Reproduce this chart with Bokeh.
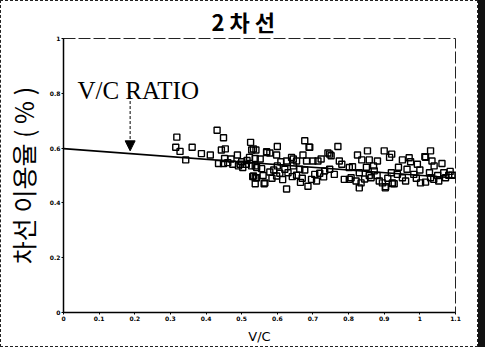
from bokeh.plotting import figure
from bokeh.models import Range1d, FixedTicker, Arrow, NormalHead, Label
from bokeh.embed import file_html
from bokeh.resources import INLINE

# ---- data ----
vc = [0.318, 0.315, 0.327, 0.343, 0.361, 0.387, 0.412, 0.431, 0.449, 0.443,
      0.454, 0.452, 0.435, 0.449, 0.461, 0.475, 0.488, 0.491, 0.503, 0.525,
      0.528, 0.540, 0.522, 0.538, 0.513, 0.528, 0.542, 0.531, 0.542, 0.538,
      0.563, 0.552, 0.570, 0.579, 0.600, 0.598, 0.610, 0.626, 0.640, 0.654,
      0.645, 0.672, 0.677, 0.689, 0.682, 0.700, 0.714, 0.723, 0.742, 0.751,
      0.774, 0.781, 0.802, 0.538, 0.556, 0.579, 0.598, 0.607, 0.621, 0.630,
      0.642, 0.654, 0.663, 0.677, 0.686, 0.696, 0.705, 0.719, 0.733, 0.747,
      0.760, 0.788, 0.802, 0.565, 0.626, 0.538, 0.585, 0.615, 0.560, 0.590,
      0.670, 0.710, 0.730, 0.665, 0.600, 0.645, 0.533, 0.570, 0.691, 0.770,
      0.747, 0.853, 0.825, 0.837, 0.858, 0.881, 0.900, 0.921, 0.915, 0.951,
      0.974, 0.993, 1.030, 1.014, 1.034, 1.062, 0.811, 0.807, 0.821, 0.835,
      0.830, 0.863, 0.872, 0.886, 0.895, 0.903, 0.923, 0.937, 0.951, 0.964,
      0.983, 1.002, 1.016, 1.030, 1.039, 1.053, 1.072, 1.081, 1.090, 1.067,
      1.027, 0.858, 0.850, 0.940, 0.830, 0.928, 0.880, 0.910, 0.960, 0.990,
      1.050, 1.000, 0.870, 0.970, 1.040, 1.085, 0.920, 0.845, 0.500, 0.470,
      0.515, 0.496, 0.533, 0.904, 0.923, 1.016]
util = [0.640, 0.603, 0.588, 0.557, 0.603, 0.580, 0.575, 0.665, 0.638, 0.593,
        0.597, 0.562, 0.544, 0.544, 0.547, 0.541, 0.575, 0.535, 0.529, 0.621,
        0.593, 0.593, 0.566, 0.562, 0.541, 0.535, 0.529, 0.496, 0.492, 0.470,
        0.470, 0.560, 0.587, 0.582, 0.606, 0.575, 0.550, 0.553, 0.566, 0.553,
        0.560, 0.575, 0.627, 0.603, 0.553, 0.553, 0.553, 0.560, 0.582, 0.572,
        0.553, 0.541, 0.529, 0.535, 0.525, 0.513, 0.498, 0.508, 0.523, 0.510,
        0.496, 0.501, 0.523, 0.520, 0.461, 0.486, 0.504, 0.508, 0.517, 0.523,
        0.504, 0.486, 0.486, 0.473, 0.451, 0.492, 0.490, 0.485, 0.500, 0.520,
        0.490, 0.480, 0.495, 0.475, 0.535, 0.535, 0.597, 0.584, 0.603, 0.606,
        0.578, 0.590, 0.575, 0.557, 0.557, 0.553, 0.590, 0.578, 0.566, 0.557,
        0.550, 0.541, 0.590, 0.569, 0.553, 0.544, 0.532, 0.492, 0.480, 0.473,
        0.510, 0.492, 0.517, 0.480, 0.473, 0.455, 0.473, 0.504, 0.492, 0.523,
        0.504, 0.473, 0.476, 0.492, 0.486, 0.480, 0.492, 0.501, 0.501, 0.510,
        0.510, 0.500, 0.530, 0.530, 0.455, 0.470, 0.500, 0.490, 0.480, 0.490,
        0.500, 0.520, 0.535, 0.565, 0.535, 0.515, 0.510, 0.487, 0.550, 0.560,
        0.555, 0.541, 0.498, 0.459, 0.471, 0.566]

trend_x = [0.0, 1.1]
trend_y = [0.598, 0.491]

x_ticks = [0.0, 0.1, 0.2, 0.3, 0.4, 0.5, 0.6, 0.7, 0.8, 0.9, 1.0, 1.1]
x_tick_labels = ["0", "0.1", "0.2", "0.3", "0.4", "0.5", "0.6", "0.7", "0.8", "0.9", "1", "1.1"]
y_ticks = [0.0, 0.2, 0.4, 0.6, 0.8, 1.0]
y_tick_labels = ["0", "0.2", "0.4", "0.6", "0.8", "1"]

arrow_x = 0.187
arrow_y_start = 0.79
arrow_y_end = 0.59

p = figure(width=478, height=347, output_backend="svg", toolbar_location=None,
           x_range=Range1d(0, 1.1), y_range=Range1d(0, 1.0),
           min_border_left=56, min_border_right=24, min_border_top=34, min_border_bottom=36,
           background_fill_color="white", border_fill_color="white")

p.styles = {"border": "1px dashed #222", "box-sizing": "border-box",
            "box-shadow": "7px 0px 0px 0px #111"}

p.title.text = "2 차 선"
p.title.text_font = "Noto Sans CJK KR"
p.title.text_font_size = "22px"
p.title.text_font_style = "bold"
p.title.align = "left"
p.title.offset = 148
p.title.standoff = 3
p.title.text_color = "black"

p.grid.visible = False
p.outline_line_color = "#222"
p.outline_line_dash = "12 3"
p.outline_line_width = 1

p.xaxis.ticker = FixedTicker(ticks=x_ticks)
p.xaxis.major_label_overrides = {t: l for t, l in zip(x_ticks, x_tick_labels)}
p.yaxis.ticker = FixedTicker(ticks=y_ticks)
p.yaxis.major_label_overrides = {t: l for t, l in zip(y_ticks, y_tick_labels)}

for ax in (p.xaxis, p.yaxis):
    ax.axis_line_color = "black"
    ax.axis_line_width = 1.5
    ax.major_tick_line_color = "black"
    ax.major_tick_out = 2
    ax.major_tick_in = 0
    ax.minor_tick_line_color = None
    ax.major_label_text_font = "DejaVu Sans"
    ax.major_label_text_font_size = "6px"
    ax.major_label_text_font_style = "bold"
    ax.major_label_text_color = "black"
    ax.major_label_standoff = 1

p.xaxis.axis_label = "V/C"
p.xaxis.axis_label_text_font = "DejaVu Sans"
p.xaxis.axis_label_text_font_size = "13px"
p.xaxis.axis_label_text_font_style = "normal"
p.xaxis.axis_label_text_color = "black"
p.xaxis.axis_label_standoff = 5

p.yaxis.axis_label = "차선 이용율 ( % )"
p.yaxis.axis_label_text_font = "Noto Sans CJK KR"
p.yaxis.axis_label_text_font_size = "25px"
p.yaxis.axis_label_text_font_style = "normal"
p.yaxis.axis_label_text_color = "black"
p.yaxis.axis_label_standoff = 6

p.line(trend_x, trend_y, line_color="black", line_width=1.6)
p.scatter(vc, util, marker="square", size=6, fill_color=None,
          line_color="black", line_width=1.4)

p.add_layout(Arrow(end=NormalHead(size=10, fill_color="black", line_color="black"),
                   x_start=arrow_x, y_start=arrow_y_start, x_end=arrow_x, y_end=arrow_y_end,
                   line_color="black", line_dash="3 2", line_width=1))
p.add_layout(Label(x=0.039, y=0.81, text="V/C RATIO", text_font="Liberation Serif",
                   text_font_size="25px", text_color="black", text_baseline="alphabetic"))

open("out.html", "w").write(file_html(p, INLINE))
